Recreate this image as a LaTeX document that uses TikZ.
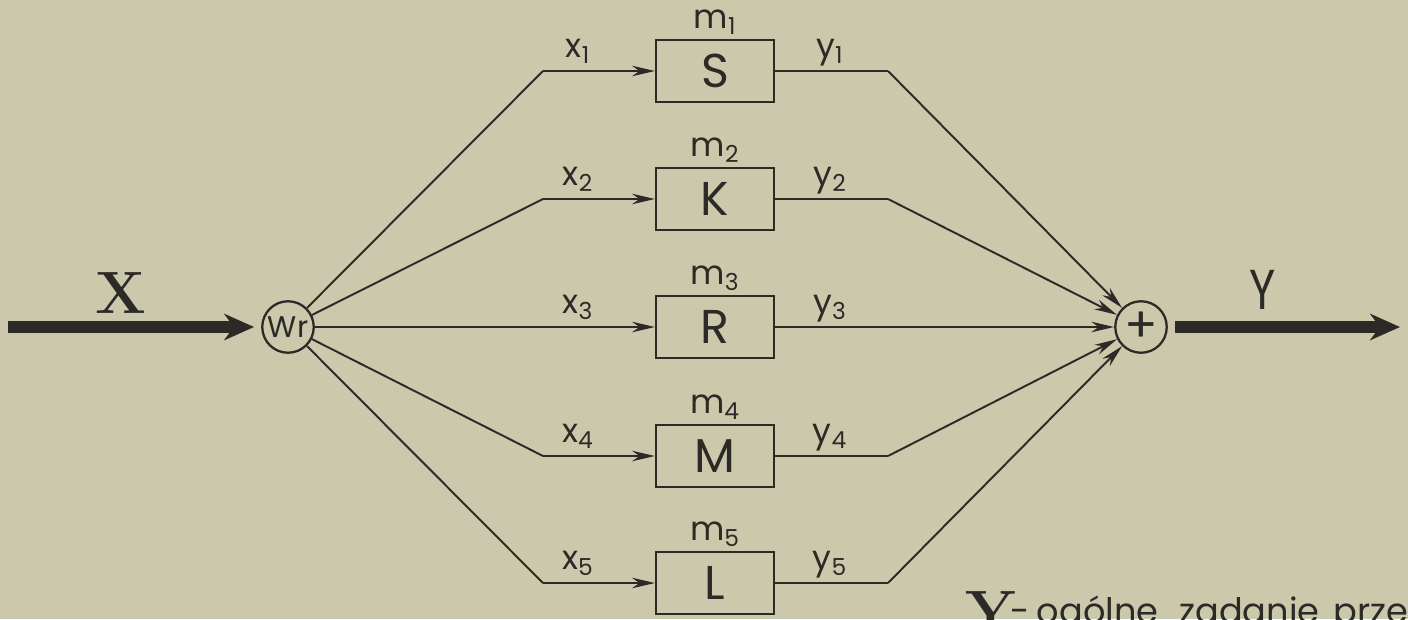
\documentclass[tikz,border=0pt]{standalone}
\usepackage{fontspec}
\setmainfont{Poppins}
\newfontfamily\bigserif{Latin Modern Roman}
\usetikzlibrary{arrows.meta}
\definecolor{paper}{HTML}{CCC8AC}
\definecolor{ink}{HTML}{2B2A26}
\begin{document}
\begin{tikzpicture}[x=0.02cm,y=-0.02cm,
  wire/.style={draw=ink,line width=1.1pt},
  feed/.style={wire,-{Stealth[length=13pt,width=6pt]}},
  bigarrow/.style={draw=ink,line width=7pt,-{Stealth[length=17pt,width=15pt]}},
  blockbox/.style={draw=ink,line width=1.3pt,minimum width=2.36cm,minimum height=1.24cm,
    inner sep=0pt,font=\fontsize{27}{27}\selectfont,text=ink},
  junction/.style={draw=ink,circle,line width=1.3pt,minimum size=1.03cm,inner sep=0pt,text=ink},
  sig/.style={text=ink,font=\fontsize{19}{19}\selectfont,inner sep=0pt,anchor=base},
  big/.style={text=ink,inner sep=0pt}]
\fill[paper] (0,0) rectangle (1408,619);
\useasboundingbox (0,0) rectangle (1408,619);

% splitter and summing junction
\node[junction,font=\fontsize{17}{17}\selectfont] (Wr) at (288,327) {Wr};
\node[junction,font=\fontsize{28}{28}\selectfont] (sum) at (1141,327) {+};

% main input and output
\coordinate (in) at (8,327);
\coordinate (out) at (1400,327);
\draw[bigarrow,shorten >=4pt] (in) -- (Wr);
\draw[bigarrow,shorten <=4pt] (sum) -- (out);
\node[big,font=\bigserif\bfseries\fontsize{34}{34}\selectfont] (Xlab) at (121,293) {X};
\node[big,font=\fontsize{32}{32}\selectfont,xscale=0.8] (Ylab) at (1263,290) {Y};

% parallel blocks
\foreach \i/\yy/\name in {1/71/S,2/199/K,3/327/R,4/456/M,5/583/L}{
  \node[blockbox] (b\i) at (715,\yy) {\name};
  \node[sig] (m\i) at (715,\yy-43) {m\textsubscript{\i}};
  \node[sig] (x\i) at (578,\yy-14) {x\textsubscript{\i}};
  \node[sig] (y\i) at (830,\yy-14) {y\textsubscript{\i}};
  \coordinate (a\i) at (543,\yy);
  \coordinate (c\i) at (888,\yy);
}
\foreach \i in {1,2,4,5}{
  \draw[wire] (Wr) -- (a\i);
  \draw[feed] (a\i) -- (b\i);
  \draw[wire] (b\i) -- (c\i);
  \draw[feed] (c\i) -- (sum);
}
\draw[feed] (Wr) -- (b3);
\draw[feed] (b3) -- (sum);

% legend line at the bottom
\node[big,anchor=base west,font=\bigserif\bfseries\fontsize{34}{34}\selectfont] (legY) at (965,632) {Y};
\node[big,anchor=base west,font=\fontsize{20}{20}\selectfont] (legtext) at (1010,623)
  {-\hspace{4pt}ogólne\hspace{12pt}zadanie\hspace{8pt}przewozowe};
\end{tikzpicture}
\end{document}
